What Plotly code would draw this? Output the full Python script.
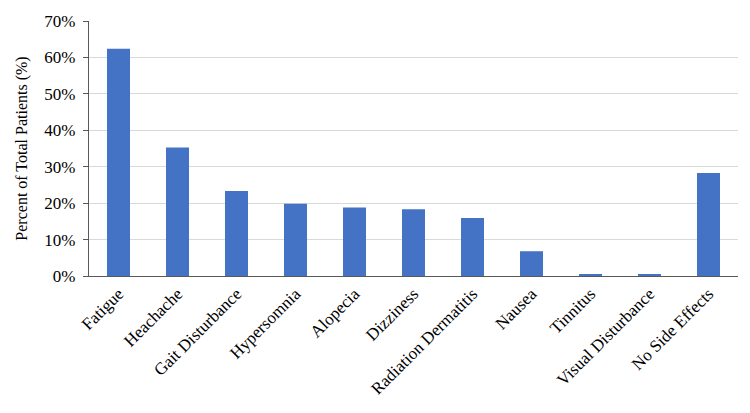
import plotly.graph_objects as go

categories = ["Fatigue", "Heachache", "Gait Disturbance", "Hypersomnia", "Alopecia",
              "Dizziness", "Radiation Dermatitis", "Nausea", "Tinnitus",
              "Visual Disturbance", "No Side Effects"]
percent_values = [62.4, 35.3, 23.3, 19.8, 18.8, 18.3, 15.9, 6.8, 0.35, 0.35, 28.3]
y_ticks = [0, 10, 20, 30, 40, 50, 60, 70]
y_tick_labels = ["0%", "10%", "20%", "30%", "40%", "50%", "60%", "70%"]

font_family = "Liberation Serif, Times New Roman, serif"

fig = go.Figure(go.Bar(
    x=categories, y=percent_values,
    marker=dict(color="#4472C4", line=dict(width=0)),
))

fig.update_layout(
    width=750, height=413,
    margin=dict(l=89, r=12, t=16, b=137),
    paper_bgcolor="white", plot_bgcolor="white",
    bargap=0.61,
    showlegend=False,
    font=dict(family=font_family, size=17, color="#000000"),
    xaxis=dict(
        tickangle=-45,
        tickfont=dict(family=font_family, size=17, color="#000000"),
        showline=True, linecolor="#595959", linewidth=1.3,
        showgrid=False, ticks="",
    ),
    yaxis=dict(
        range=[0, 70],
        tickvals=y_ticks, ticktext=y_tick_labels,
        tickfont=dict(family=font_family, size=17, color="#000000"),
        showgrid=True, gridcolor="#d9d9d9", gridwidth=1,
        showline=True, linecolor="#595959", linewidth=1.3,
        ticks="outside", ticklen=5, tickcolor="#595959",
        ticklabelstandoff=4,
        zeroline=False,
        title=dict(text="Percent of Total Patients (%)",
                   font=dict(family=font_family, size=16, color="#000000"),
                   standoff=12),
    ),
)

fig.write_html("out.html")
